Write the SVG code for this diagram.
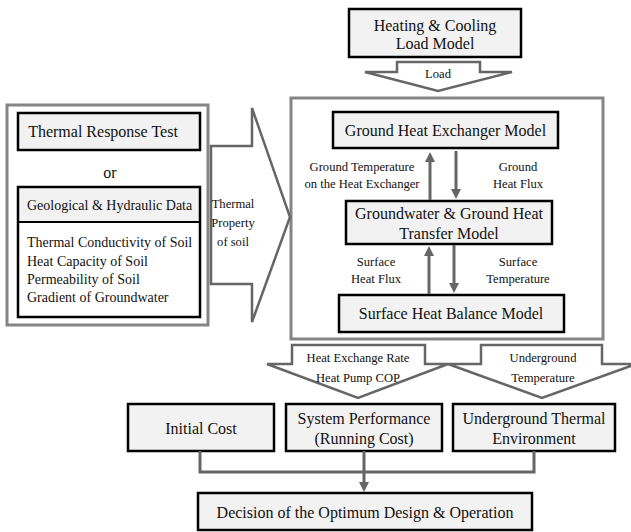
<svg xmlns="http://www.w3.org/2000/svg" width="631" height="532" viewBox="0 0 631 532" font-family="'Liberation Serif', 'DejaVu Serif', serif">
<style>
text{font-family:'Liberation Serif','DejaVu Serif',serif;fill:#111;text-anchor:middle}
.b{fill:#f2f2f2;stroke:#000;stroke-width:2.5}
.f{fill:#fff;stroke:#858585;stroke-width:3}
.a{fill:#fff;stroke:#666;stroke-width:2.5;stroke-linejoin:miter}
.c{fill:none;stroke:#666;stroke-width:3}
.t16{font-size:16px}
.t14{font-size:14px}
.t13{font-size:12.6px}
.l{text-anchor:start}
</style>
<defs>
<marker id="ah" viewBox="0 0 10 10" refX="2" refY="5" markerWidth="10" markerHeight="10" markerUnits="userSpaceOnUse" orient="auto">
<path d="M0,0 L10,5 L0,10 z" fill="#666"/>
</marker>
</defs>

<g id="frame-right"><rect class="f" x="291" y="98" width="312" height="241"/></g>
<g id="frame-left"><rect class="f" x="7" y="105" width="201" height="220"/></g>

<g id="load-model">
<rect class="b" x="349" y="9" width="172" height="48"/>
<text class="t16" x="435" y="31">Heating &amp; Cooling</text>
<text class="t16" x="435" y="49">Load Model</text>
</g>

<g id="arrow-load">
<polygon class="a" points="397,62 480,62 480,72 512,72 438,91 365,72 397,72"/>
<text class="t13" x="438" y="78">Load</text>
</g>

<g id="ghe-model">
<rect class="b" x="333" y="112" width="225" height="36"/>
<text class="t16" x="445.5" y="135.5">Ground Heat Exchanger Model</text>
</g>

<g id="gw-model">
<rect class="b" x="346" y="201" width="206" height="43"/>
<text class="t16" x="449" y="218.5">Groundwater &amp; Ground Heat</text>
<text class="t16" x="449" y="238.5">Transfer Model</text>
</g>

<g id="shb-model">
<rect class="b" x="339" y="295" width="225" height="37"/>
<text class="t16" x="451" y="319">Surface Heat Balance Model</text>
</g>

<g id="trt">
<rect class="b" x="18" y="113" width="182" height="37"/>
<text class="t16" x="103" y="137">Thermal Response Test</text>
</g>
<g id="or"><text class="t16" x="110" y="178">or</text></g>

<g id="geo">
<rect x="18" y="187" width="182" height="130" fill="#fff" stroke="none"/>
<rect x="18" y="187" width="182" height="35" fill="#f2f2f2" stroke="none"/>
<line x1="18" y1="222" x2="200" y2="222" stroke="#000" stroke-width="2"/>
<rect x="18" y="187" width="182" height="130" fill="none" stroke="#000" stroke-width="2.5"/>
<text class="t14 l" x="27" y="210">Geological &amp; Hydraulic Data</text>
<text class="t14 l" x="27" y="247">Thermal Conductivity of Soil</text>
<text class="t14 l" x="27" y="265.5">Heat Capacity of Soil</text>
<text class="t14 l" x="27" y="283.5">Permeability of Soil</text>
<text class="t14 l" x="27" y="302">Gradient of Groundwater</text>
</g>

<g id="arrow-thermal">
<polygon class="a" points="211,146 252,146 252,108 290,217 252,322 252,284 211,284"/>
<text class="t13" x="233" y="208">Thermal</text>
<text class="t13" x="233" y="227">Property</text>
<text class="t13" x="233" y="246">of soil</text>
</g>

<g id="arrow-hx">
<polygon class="a" points="292,345 425,345 425,364 448,364 358,398 267,364 292,364"/>
<text class="t13" x="358" y="362">Heat Exchange Rate</text>
<text class="t13" x="358" y="382">Heat Pump COP</text>
</g>

<g id="arrow-ug">
<polygon class="a" points="481,345 602,345 602,364 636,364 542,398 448,364 481,364"/>
<text class="t13" x="543" y="362">Underground</text>
<text class="t13" x="543" y="382">Temperature</text>
</g>

<g id="initial-cost">
<rect class="b" x="128" y="404" width="146" height="47"/>
<text class="t16" x="201" y="434">Initial Cost</text>
</g>
<g id="system-performance">
<rect class="b" x="286" y="404" width="156" height="47"/>
<text class="t16" x="364" y="424">System Performance</text>
<text class="t16" x="364" y="444">(Running Cost)</text>
</g>
<g id="underground-env">
<rect class="b" x="453" y="404" width="162" height="47"/>
<text class="t16" x="534" y="424">Underground Thermal</text>
<text class="t16" x="534" y="444">Environment</text>
</g>
<g id="decision">
<rect class="b" x="198" y="493" width="334" height="37"/>
<text class="t16" x="365" y="518">Decision of the Optimum Design &amp; Operation</text>
</g>

<g id="connectors">
<line class="c" x1="430" y1="200" x2="430" y2="160" marker-end="url(#ah)"/>
<line class="c" x1="456" y1="151" x2="456" y2="191" marker-end="url(#ah)"/>
<line class="c" x1="429" y1="294" x2="429" y2="254" marker-end="url(#ah)"/>
<line class="c" x1="454" y1="245" x2="454" y2="285" marker-end="url(#ah)"/>
<polyline class="c" points="200,451 200,472 534,472 534,451"/>
<line class="c" x1="364" y1="451" x2="364" y2="484" marker-end="url(#ah)"/>
</g>

<g id="labels">
<text class="t13" x="362" y="171">Ground Temperature</text>
<text class="t13" x="362" y="188">on the Heat Exchanger</text>
<text class="t13" x="518" y="171">Ground</text>
<text class="t13" x="518" y="188">Heat Flux</text>
<text class="t13" x="376" y="266">Surface</text>
<text class="t13" x="376" y="283">Heat Flux</text>
<text class="t13" x="518" y="266">Surface</text>
<text class="t13" x="518" y="283">Temperature</text>
</g>
</svg>
